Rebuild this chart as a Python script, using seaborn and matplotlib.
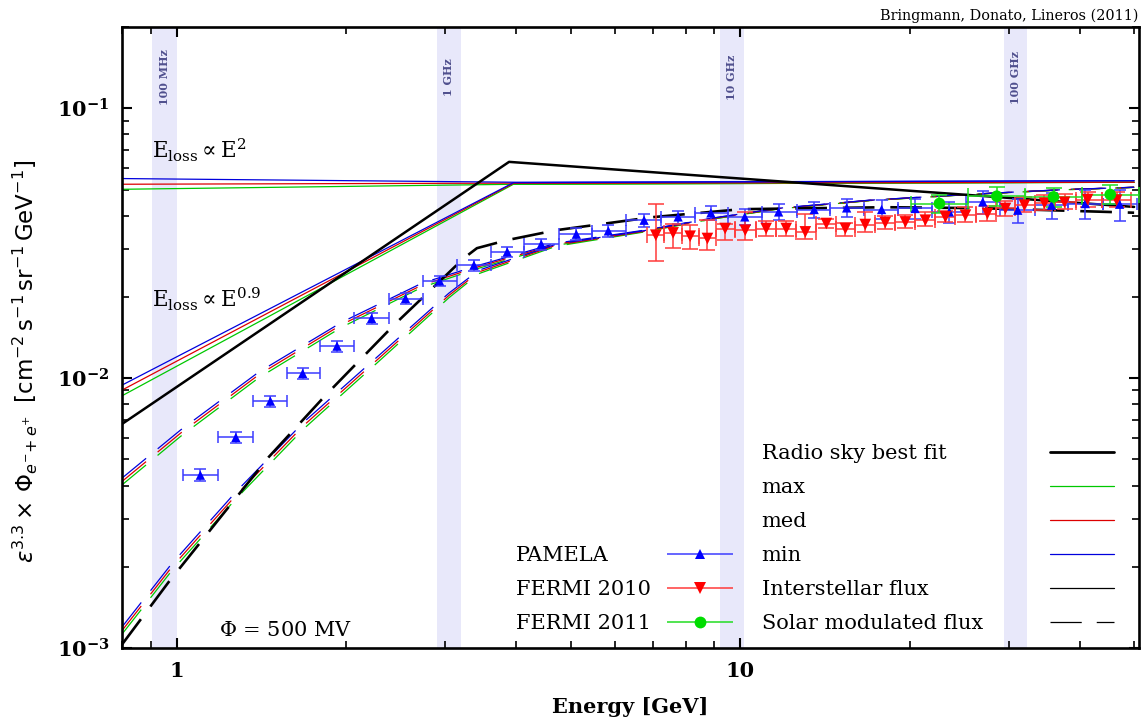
import numpy as np
import pandas as pd
import seaborn as sns
import matplotlib.pyplot as plt
from matplotlib.lines import Line2D
from matplotlib.container import ErrorbarContainer
from matplotlib.legend_handler import HandlerErrorbar
from matplotlib.ticker import LogLocator, NullFormatter, FuncFormatter

sns.set_theme(style="ticks")
plt.rcParams['font.family'] = ['DejaVu Serif']
plt.rcParams['mathtext.fontset'] = 'dejavuserif'
plt.rcParams['text.color'] = 'black'
plt.rcParams['axes.labelcolor'] = 'black'
plt.rcParams['xtick.color'] = 'black'
plt.rcParams['ytick.color'] = 'black'

# radio frequency bands (GeV range of the synchrotron emitting electrons)
band_labels = ["100 MHz", "1 GHz", "10 GHz", "100 GHz"]
band_lo = [0.906, 2.90, 9.20, 29.4]
band_hi = [1.0, 3.19, 10.14, 32.3]

# radio sky best fit (interstellar, thick solid)
best_E = [0.8, 3.89, 50]
best_flux = [6.76e-3, 0.0633, 0.0431]

# solar modulated best fit (thick dashed)
best_mod_E = [0.8, 0.968, 1.237, 1.457, 1.839, 2.429, 3.234, 3.411, 3.855, 4.713, 6.978, 10.04, 18.17, 26.91, 50]
best_mod_flux = [1.03e-3, 1.755e-3, 3.33e-3, 5.10e-3, 8.65e-3, 0.01571, 0.02783, 0.03031, 0.03245,
                 0.03533, 0.03948, 0.04227, 0.04299, 0.04263, 0.04102]

# interstellar flux, E_loss ~ E^2
is2_E = [0.8, 4.0, 50]
is2_max = [0.0501, 0.0523, 0.0532]
is2_med = [0.0523, 0.0528, 0.0532]
is2_min = [0.0549, 0.0532, 0.0539]

# interstellar flux, E_loss ~ E^0.9
is09_E = [0.8, 3.96, 50]
is09_max = [8.60e-3, 0.0523, 0.0532]
is09_med = [9.03e-3, 0.0527, 0.0532]
is09_min = [9.42e-3, 0.0530, 0.0539]

# solar modulated, E_loss ~ E^2
mod2_E = [0.8, 1.016, 1.398, 1.964, 2.724, 3.439, 4.713, 6.753, 8.918, 11.73, 16.95, 25.51, 37.78, 50]
mod2_min = [4.26e-3, 6.42e-3, 0.01052, 0.01612, 0.02248, 0.02621, 0.03162, 0.03533, 0.03915, 0.04263, 0.04563, 0.04801, 0.04999, 0.05097]
mod2_med = [4.14e-3, 6.25e-3, 0.01028, 0.01580, 0.02210, 0.02590, 0.03135, 0.03515, 0.03900, 0.04250, 0.04555, 0.04795, 0.04995, 0.05095]
mod2_max = [4.02e-3, 6.08e-3, 0.01002, 0.01545, 0.02170, 0.02555, 0.03105, 0.03495, 0.03885, 0.04240, 0.04548, 0.04790, 0.04990, 0.05092]

# solar modulated, E_loss ~ E^0.9
mod09_E = [0.8, 0.976, 1.273, 1.681, 2.257, 3.042, 3.439, 4.713, 6.753, 8.918, 11.73, 16.95, 25.51, 37.78, 50]
mod09_min = [1.196e-3, 2.03e-3, 3.78e-3, 6.87e-3, 0.01186, 0.02065, 0.02512, 0.03135, 0.03519, 0.03915, 0.04263, 0.04563, 0.04801, 0.04999, 0.05097]
mod09_med = [1.16e-3, 1.97e-3, 3.67e-3, 6.68e-3, 0.01157, 0.02025, 0.02475, 0.03110, 0.03500, 0.03900, 0.04250, 0.04555, 0.04795, 0.04995, 0.05095]
mod09_max = [1.125e-3, 1.91e-3, 3.56e-3, 6.49e-3, 0.01128, 0.01985, 0.02440, 0.03080, 0.03480, 0.03885, 0.04240, 0.04548, 0.04790, 0.04990, 0.05092]

# PAMELA
pamela_E = [1.102, 1.274, 1.467, 1.674, 1.926, 2.218, 2.548, 2.928, 3.370, 3.861, 4.437, 5.120, 5.835, 6.753,
            7.761, 8.872, 10.19, 11.70, 13.53, 15.45, 17.82, 20.43, 23.50, 26.94, 31.08, 35.68, 40.96, 47.12]
pamela_edges = [1.027, 1.185, 1.367, 1.568, 1.796, 2.067, 2.377, 2.732, 3.142, 3.607, 4.139, 4.767, 5.467, 6.281, 7.239,
                8.299, 9.511, 10.92, 12.59, 14.46, 16.59, 19.09, 21.92, 25.17, 28.94, 33.32, 38.23, 43.95, 50.5]
pamela_flux = [4.37e-3, 6.03e-3, 8.22e-3, 0.01041, 0.01314, 0.01664, 0.01973, 0.02293, 0.02621, 0.02936, 0.03135,
               0.03415, 0.03513, 0.03848, 0.03958, 0.04095, 0.03958, 0.04130, 0.04216, 0.04274, 0.04216, 0.04253,
               0.04130, 0.04498, 0.04191, 0.04374, 0.04436, 0.04410]
pamela_err = [0.05, 0.045, 0.045, 0.045, 0.045, 0.045, 0.045, 0.045, 0.045, 0.045, 0.05, 0.05, 0.05, 0.055,
              0.055, 0.06, 0.07, 0.07, 0.07, 0.075, 0.08, 0.085, 0.09, 0.10, 0.10, 0.11, 0.12, 0.13]

# FERMI 2010
fermi10_E = [7.085, 7.603, 8.151, 8.748, 9.405, 10.21, 11.12, 12.07, 13.05, 14.22, 15.37, 16.67, 18.09, 19.64,
             21.31, 23.13, 25.10, 27.46, 29.56, 31.95, 34.67, 37.63, 41.34, 46.55]
fermi10_edges = [6.836, 7.338, 7.873, 8.446, 9.072, 9.797, 10.65, 11.59, 12.55, 13.62, 14.77, 16.01, 17.37, 18.85,
                 20.45, 22.20, 24.09, 26.26, 28.49, 30.73, 33.29, 36.12, 39.44, 43.87, 49.28]
fermi10_flux = [0.03386, 0.03453, 0.03357, 0.03292, 0.03585, 0.03533, 0.03585, 0.03585, 0.03483, 0.03741, 0.03585,
                0.03709, 0.03773, 0.03792, 0.03848, 0.03958, 0.04016, 0.04074, 0.04253, 0.04374, 0.04448, 0.04486,
                0.04591, 0.04567]
fermi10_err_lo = [0.20, 0.12, 0.10, 0.09, 0.09, 0.08, 0.06, 0.06, 0.06, 0.04, 0.06, 0.06, 0.05, 0.05, 0.05, 0.04,
                  0.06, 0.06, 0.06, 0.06, 0.06, 0.06, 0.06, 0.06]
fermi10_err_hi = [0.30, 0.08, 0.10, 0.17, 0.04, 0.17, 0.07, 0.07, 0.16, 0.04, 0.05, 0.11, 0.06, 0.06, 0.07, 0.05,
                  0.07, 0.07, 0.07, 0.07, 0.07, 0.07, 0.07, 0.07]

# FERMI 2011
fermi11_E = [22.57, 28.53, 35.97, 45.36]
fermi11_edges = [20.09, 25.38, 32.04, 40.41, 51.0]
fermi11_flux = [0.04436, 0.04721, 0.04693, 0.04791]
fermi11_err = [0.08, 0.08, 0.08, 0.08]

C_MAX, C_MED, C_MIN = "#00c800", "#dd0000", "#0000dd"

fig = plt.figure(figsize=(11.44, 7.17), dpi=100)
ax = fig.add_axes([0.1066, 0.0962, 0.889, 0.8661])
ax.set_xscale("log")
ax.set_yscale("log")
ax.set_xlim(0.8, 51)
ax.set_ylim(1e-3, 0.2)

# frequency bands
for lab, lo, hi in zip(band_labels, band_lo, band_hi):
    ax.axvspan(lo, hi, color="#e8e8fa", lw=0, zorder=0)
    ax.text(np.sqrt(lo * hi), 0.919, lab, transform=ax.get_xaxis_transform(), rotation=90,
            ha="center", va="center", fontsize=8, fontweight="bold", color="#50508e")


def curve(E, F, color, lw, ls="-"):
    sns.lineplot(x=E, y=F, ax=ax, color=color, linewidth=lw, linestyle=ls,
                 estimator=None, sort=False, zorder=2)


thin_dash = (0, (25, 12))
for E, fmax, fmed, fmin, ls in [(is2_E, is2_max, is2_med, is2_min, "-"),
                                (is09_E, is09_max, is09_med, is09_min, "-"),
                                (mod2_E, mod2_max, mod2_med, mod2_min, thin_dash),
                                (mod09_E, mod09_max, mod09_med, mod09_min, thin_dash)]:
    curve(E, fmax, C_MAX, 0.9, ls)
    curve(E, fmed, C_MED, 0.9, ls)
    curve(E, fmin, C_MIN, 0.9, ls)

curve(best_E, best_flux, "black", 1.8)
curve(best_mod_E, best_mod_flux, "black", 1.9, (0, (12, 6)))


def data_points(E, edges, flux, err_lo, err_hi, color, ecolor, marker, s, cap):
    E = np.array(E)
    edges = np.array(edges)
    flux = np.array(flux)
    xerr = [E - edges[:-1], edges[1:] - E]
    yerr = [flux * np.array(err_lo), flux * np.array(err_hi)]
    ax.errorbar(E, flux, xerr=xerr, yerr=yerr, fmt="none", ecolor=ecolor, elinewidth=1.1,
                capsize=cap, capthick=1.1, zorder=3)
    sns.scatterplot(x=E, y=flux, ax=ax, marker=marker, s=s, color=color, edgecolor="none",
                    linewidth=0, zorder=4, legend=False)


data_points(pamela_E, pamela_edges, pamela_flux, pamela_err, pamela_err, "#0000ff", "#3c3cff", "^", 45, 4)
data_points(fermi10_E, fermi10_edges, fermi10_flux, fermi10_err_lo, fermi10_err_hi, "#ff0000", "#ff3a3a", "v", 70, 5.5)
data_points(fermi11_E, fermi11_edges, fermi11_flux, fermi11_err, fermi11_err, "#00dd00", "#22dd22", "o", 70, 5.5)

# axes styling
for sp in ax.spines.values():
    sp.set_color("black")
    sp.set_linewidth(1.9)
ax.tick_params(which="both", direction="in", top=True, right=True, color="black")
ax.tick_params(which="major", length=7.5, width=1.5, pad=9, labelsize=15)
ax.tick_params(which="minor", length=5, width=1.2)
ax.set_xticks([1, 10])
ax.set_xticklabels(["1", "10"], fontweight="bold")
ax.xaxis.set_minor_locator(LogLocator(base=10, subs=np.arange(2, 10)))
ax.xaxis.set_minor_formatter(NullFormatter())
ax.set_yticks([1e-3, 1e-2, 1e-1])
ax.yaxis.set_major_formatter(FuncFormatter(lambda v, p: r"$\mathbf{10^{%d}}$" % round(np.log10(v))))
ax.yaxis.set_minor_locator(LogLocator(base=10, subs=np.arange(2, 10)))
ax.yaxis.set_minor_formatter(NullFormatter())
ax.grid(False)

ax.set_xlabel("Energy [GeV]", fontsize=15, fontweight="bold", labelpad=12)
ax.set_ylabel(r"$\varepsilon^{3.3}\times\,\Phi_{e^{-}\!+e^{+}}\;\;[\mathrm{cm^{-2}\,s^{-1}\,sr^{-1}\,GeV^{-1}}]$",
              fontsize=16.5, math_fontfamily="dejavusans")
ax.yaxis.set_label_coords(-0.081, 0.462)

ax.text(0.0295, 0.789, r"$\mathrm{E_{loss}} \propto \mathrm{E}^{2}$", transform=ax.transAxes, fontsize=15.5)
ax.text(0.0295, 0.549, r"$\mathrm{E_{loss}} \propto \mathrm{E}^{0.9}$", transform=ax.transAxes, fontsize=15.5)
ax.text(0.095, 0.019, r"$\Phi$ = 500 MV", transform=ax.transAxes, fontsize=15)
fig.text(0.9948, 0.972, "Bringmann, Donato, Lineros (2011)", ha="right", va="baseline", fontsize=10.4)


# legends: labels in one block (left aligned), keys in another block
def proxy(color, ecolor, marker, ms):
    return ax.errorbar([np.nan], [np.nan], xerr=[1.0], fmt=marker, color=color, ecolor=ecolor,
                       markersize=ms, markeredgewidth=0, elinewidth=1.1, capsize=7, capthick=1.1)


LEG_FS = 15
LEG_SP = 0.72
LEG_Y = 0.024
common = dict(loc="lower left", frameon=False, fontsize=LEG_FS, labelspacing=LEG_SP,
              borderpad=0, borderaxespad=0)
blank = Line2D([], [], linestyle="none")

data_labels = ["PAMELA", "FERMI 2010", "FERMI 2011"]
data_handles = [proxy("#0000ff", "#3c3cff", "^", 7.5),
                proxy("#ff0000", "#ff3a3a", "v", 8.5),
                proxy("#00dd00", "#22dd22", "o", 8.5)]
line_labels = ["Radio sky best fit", "max", "med", "min", "Interstellar flux", "Solar modulated flux"]
line_handles = [Line2D([], [], color="black", lw=2.0),
                Line2D([], [], color=C_MAX, lw=0.9),
                Line2D([], [], color=C_MED, lw=0.9),
                Line2D([], [], color=C_MIN, lw=0.9),
                Line2D([], [], color="black", lw=0.9),
                Line2D([], [], color="black", lw=0.9, linestyle=(0, (25, 12)))]

legs = [
    ax.legend([blank] * 3, data_labels, bbox_to_anchor=(0.3874, LEG_Y), handlelength=0,
              handletextpad=0, **common),
    ax.legend(data_handles, [" "] * 3, bbox_to_anchor=(0.5359, LEG_Y), handlelength=3.4 * 14 / LEG_FS,
              handletextpad=0, handler_map={ErrorbarContainer: HandlerErrorbar(xerr_size=1.6, numpoints=1)},
              **common),
    ax.legend([blank] * 6, line_labels, bbox_to_anchor=(0.629, LEG_Y), handlelength=0,
              handletextpad=0, **common),
    ax.legend(line_handles, [" "] * 6, bbox_to_anchor=(0.9125, LEG_Y), handlelength=3.3 * 14 / LEG_FS,
              handletextpad=0, **common),
]
for leg in legs[:-1]:
    ax.add_artist(leg)

fig.savefig("out.png", dpi=100)
